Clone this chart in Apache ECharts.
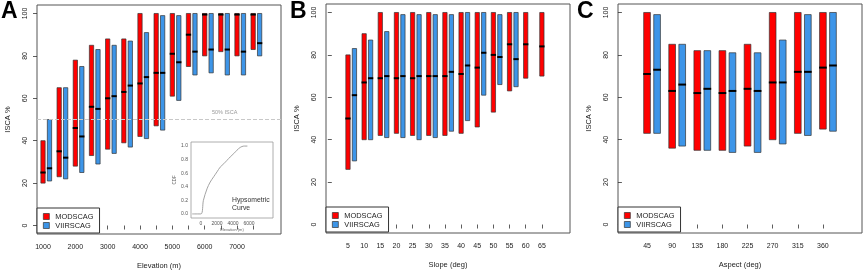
<!DOCTYPE html>
<html>
<head>
<meta charset="utf-8">
<script src="https://cdn.jsdelivr.net/npm/echarts@6/dist/echarts.min.js"></script>
<style>
  html, body { margin: 0; padding: 0; background: #fff; }
  #chart { width: 865px; height: 271px; }
</style>
</head>
<body>
<div id="chart"></div>
<script>
// ---- data ----
const elevBins = [1000, 1500, 2000, 2500, 3000, 3500, 4000, 4500, 5000, 5500, 6000, 6500, 7000, 7500];
const aRedLo  = [20, 23, 28, 33, 36, 39, 42, 47, 61, 75, 80, 82, 80, 83];
const aRedHi  = [40, 65, 78, 85, 88, 88, 100, 100, 100, 100, 100, 100, 100, 100];
const aRedMd  = [25, 35, 46, 56, 60, 63, 67, 72, 81, 90, 99.5, 99.5, 99.5, 99.5];
const aBlueLo = [21, 22, 25, 29, 34, 37, 41, 45, 59, 71, 72, 71, 71, 80];
const aBlueHi = [50, 65, 75, 83, 85, 87, 91, 99, 99, 100, 100, 100, 100, 100];
const aBlueMd = [27, 32, 42, 55, 61, 66, 70, 72, 77, 82, 83, 83, 82, 86];

const slopeBins = [5, 10, 15, 20, 25, 30, 35, 40, 45, 50, 55, 60, 65];
const bRedLo  = [26, 40, 42, 43, 42, 42, 42, 43, 46, 53, 63, 69, 70];
const bRedHi  = [80, 90, 100, 100, 100, 100, 100, 100, 100, 100, 100, 100, 100];
const bRedMd  = [50, 67, 69, 69, 69, 70, 70, 71, 74, 80, 85, 85, 84];
const bBlueLo = [30, 40, 41, 41, 40, 41, 44, 49, 61, 66, 65];
const bBlueHi = [83, 87, 91, 99, 99, 99, 99, 100, 100, 99, 100];
const bBlueMd = [61, 69, 70, 70, 70, 70, 72, 75, 81, 79, 78];

const aspectBins = [45, 90, 135, 180, 225, 270, 315, 360];
const cRedLo  = [43, 36, 35, 35, 37, 40, 43, 45];
const cRedHi  = [100, 85, 82, 82, 85, 100, 100, 100];
const cRedMd  = [71, 63, 62, 62, 64, 67, 72, 74];
const cBlueLo = [43, 37, 35, 34, 34, 38, 42, 44];
const cBlueHi = [99, 85, 82, 81, 81, 87, 99, 100];
const cBlueMd = [73, 66, 64, 63, 63, 67, 72, 75];

// hypsometric curve (inset)
const hypsoElev = [-1100, 0, 300, 750, 1150, 1600, 2000, 2400, 2850, 3250, 3650, 4100, 4500, 4900, 5350, 5800];
const hypsoCdf  = [0, 0, 0.2, 0.37, 0.47, 0.55, 0.62, 0.69, 0.74, 0.79, 0.84, 0.89, 0.94, 0.98, 1.0, 1.0];

const isTicks = [0, 20, 40, 60, 80, 100];
const elevLabels = [1000, 2000, 3000, 4000, 5000, 6000, 7000];
const insetElevTicks = [0, 2000, 4000, 6000];
const insetCdfTicks = [0, 0.2, 0.4, 0.6, 0.8, 1.0];

const RED = '#ff0000';
const BLUE = '#3d95e8';
const FONT = '"Liberation Sans", Arial, sans-serif';

function rows(xs, lo, hi, md, off) {
    return lo.map((v, i) => [xs[i] + off, v, hi[i], md[i]]);
}

function rangeBar(w, color) {
    return function (params, api) {
        const x = api.value(0);
        const top = api.coord([x, api.value(2)]);
        const bot = api.coord([x, api.value(1)]);
        const mid = api.coord([x, api.value(3)]);
        return {
            type: 'group',
            children: [
                { type: 'rect', shape: { x: top[0] - w / 2, y: top[1], width: w, height: bot[1] - top[1] },
                  style: { fill: color, stroke: '#333', lineWidth: 0.7 } },
                { type: 'line', shape: { x1: mid[0] - w / 2 - 0.5, y1: mid[1], x2: mid[0] + w / 2 + 0.5, y2: mid[1] },
                  style: { stroke: '#000', lineWidth: 2 } }
            ]
        };
    };
}

function xAx(grid, min, max, ticks, labels, name) {
    return {
        type: 'value', gridIndex: grid, min: min, max: max,
        name: name, nameLocation: 'middle', nameGap: 28,
        nameTextStyle: { fontSize: 7.5, color: '#222', fontFamily: FONT },
        axisLine: { show: false },
        splitLine: { show: false },
        axisTick: { show: true, length: 4, customValues: ticks, lineStyle: { color: '#333', width: 0.8 } },
        axisLabel: { customValues: labels, fontSize: 7, color: '#222', margin: 10, fontFamily: FONT,
                     formatter: v => String(v) }
    };
}

function yAx(grid) {
    return {
        type: 'value', gridIndex: grid, min: -4, max: 104,
        name: 'ISCA %', nameLocation: 'middle', nameGap: 25,
        nameTextStyle: { fontSize: 7.5, color: '#222', fontFamily: FONT },
        axisLine: { show: false },
        splitLine: { show: false },
        axisTick: { show: true, length: 4, customValues: isTicks, lineStyle: { color: '#333', width: 0.8 } },
        axisLabel: { customValues: isTicks, rotate: 90, fontSize: 7, color: '#222', margin: 8, fontFamily: FONT }
    };
}

function legendAt(left, top) {
    return {
        orient: 'vertical', left: left, top: top,
        borderColor: '#333', borderWidth: 1, backgroundColor: '#fff',
        padding: [5, 6, 4, 6], itemGap: 2, itemWidth: 6, itemHeight: 6,
        textStyle: { fontSize: 7.4, color: '#222', fontFamily: FONT, padding: [0, 0, 0, 1] },
        data: [
            { name: 'MODSCAG', icon: 'rect', itemStyle: { color: RED, borderColor: '#333', borderWidth: 0.7 } },
            { name: 'VIIRSCAG', icon: 'rect', itemStyle: { color: BLUE, borderColor: '#333', borderWidth: 0.7 } }
        ]
    };
}

function barSeries(name, grid, data, w, color, extra) {
    return Object.assign({
        name: name, type: 'custom', xAxisIndex: grid, yAxisIndex: grid,
        renderItem: rangeBar(w, color),
        itemStyle: { color: color, borderColor: '#333' },
        encode: { x: 0, y: [1, 2, 3] },
        data: data, z: 3
    }, extra || {});
}

const chart = echarts.init(document.getElementById('chart'), null, { renderer: 'canvas' });

const frame = { show: true, borderColor: '#555', borderWidth: 1, backgroundColor: 'transparent',
                containLabel: false, outerBoundsMode: 'none' };

const option = {
    animation: false,
    textStyle: { fontFamily: FONT },
    grid: [
        Object.assign({ left: 37, top: 5, width: 244, height: 229 }, frame),
        Object.assign({ left: 326, top: 4, width: 244, height: 229 }, frame),
        Object.assign({ left: 618, top: 4, width: 244, height: 229 }, frame),
        { left: 191, top: 142, width: 82, height: 76, show: true, borderColor: '#999', borderWidth: 0.8,
          backgroundColor: '#fff', z: 4, containLabel: false, outerBoundsMode: 'none' }
    ],
    xAxis: [
        xAx(0, 814, 8361, elevBins, elevLabels, 'Elevation (m)'),
        xAx(1, -1.8, 73.7, slopeBins, slopeBins, 'Slope (deg)'),
        xAx(2, -7, 430, aspectBins, aspectBins, 'Aspect (deg)'),
        {
            type: 'value', gridIndex: 3, min: -1250, max: 9000,
            name: 'Elevation (m)', nameLocation: 'middle', nameGap: 10,
            nameTextStyle: { fontSize: 4, color: '#666', fontFamily: FONT },
            axisLine: { show: false }, splitLine: { show: false },
            axisTick: { length: 2, customValues: insetElevTicks, lineStyle: { color: '#888', width: 0.6 } },
            axisLabel: { customValues: insetElevTicks, fontSize: 5, color: '#555', margin: 3, fontFamily: FONT,
                         formatter: v => String(v) }
        }
    ],
    yAxis: [
        yAx(0), yAx(1), yAx(2),
        {
            type: 'value', gridIndex: 3, min: -0.06, max: 1.06,
            name: 'CDF', nameLocation: 'middle', nameGap: 13,
            nameTextStyle: { fontSize: 4.5, color: '#666', fontFamily: FONT },
            axisLine: { show: false }, splitLine: { show: false },
            axisTick: { length: 2, customValues: insetCdfTicks, lineStyle: { color: '#888', width: 0.6 } },
            axisLabel: { customValues: insetCdfTicks, fontSize: 5, color: '#555', margin: 3,
                         fontFamily: FONT, formatter: v => v.toFixed(1) }
        }
    ],
    legend: [legendAt(37, 208), legendAt(326, 207), legendAt(618, 207)],
    series: [
        barSeries('MODSCAG', 0, rows(elevBins, aRedLo, aRedHi, aRedMd, 0), 4.3, RED, {
            markLine: {
                silent: true, symbol: 'none', label: { show: false },
                lineStyle: { type: 'dashed', color: '#c8c8c8', width: 1 },
                data: [{ yAxis: 50 }]
            }
        }),
        barSeries('VIIRSCAG', 0, rows(elevBins, aBlueLo, aBlueHi, aBlueMd, 200), 4.3, BLUE),
        barSeries('MODSCAG', 1, rows(slopeBins, bRedLo, bRedHi, bRedMd, 0), 4.3, RED),
        barSeries('VIIRSCAG', 1, rows(slopeBins, bBlueLo, bBlueHi, bBlueMd, 2), 4.3, BLUE),
        barSeries('MODSCAG', 2, rows(aspectBins, cRedLo, cRedHi, cRedMd, 0), 6.7, RED),
        barSeries('VIIRSCAG', 2, rows(aspectBins, cBlueLo, cBlueHi, cBlueMd, 18), 6.7, BLUE),
        {
            name: 'hypsometric', type: 'line', xAxisIndex: 3, yAxisIndex: 3,
            data: hypsoElev.map((e, i) => [e, hypsoCdf[i]]),
            showSymbol: false, smooth: 0.3, z: 5,
            lineStyle: { color: '#999', width: 0.9 }
        }
    ],
    graphic: [
        { type: 'text', left: 1, top: 0, style: { text: 'A', font: 'bold 23px ' + FONT, fill: '#000' } },
        { type: 'text', left: 290, top: 0, style: { text: 'B', font: 'bold 23px ' + FONT, fill: '#000' } },
        { type: 'text', left: 577, top: 0, style: { text: 'C', font: 'bold 23px ' + FONT, fill: '#000' } },
        { type: 'text', left: 212, top: 109, style: { text: '50% ISCA', font: '5.5px ' + FONT, fill: '#999' } },
        { type: 'text', left: 232, top: 196, z: 10,
          style: { text: 'Hypsometric\nCurve', font: '6.8px ' + FONT, fill: '#333', lineHeight: 8 } }
    ]
};

chart.setOption(option);
</script>
</body>
</html>
